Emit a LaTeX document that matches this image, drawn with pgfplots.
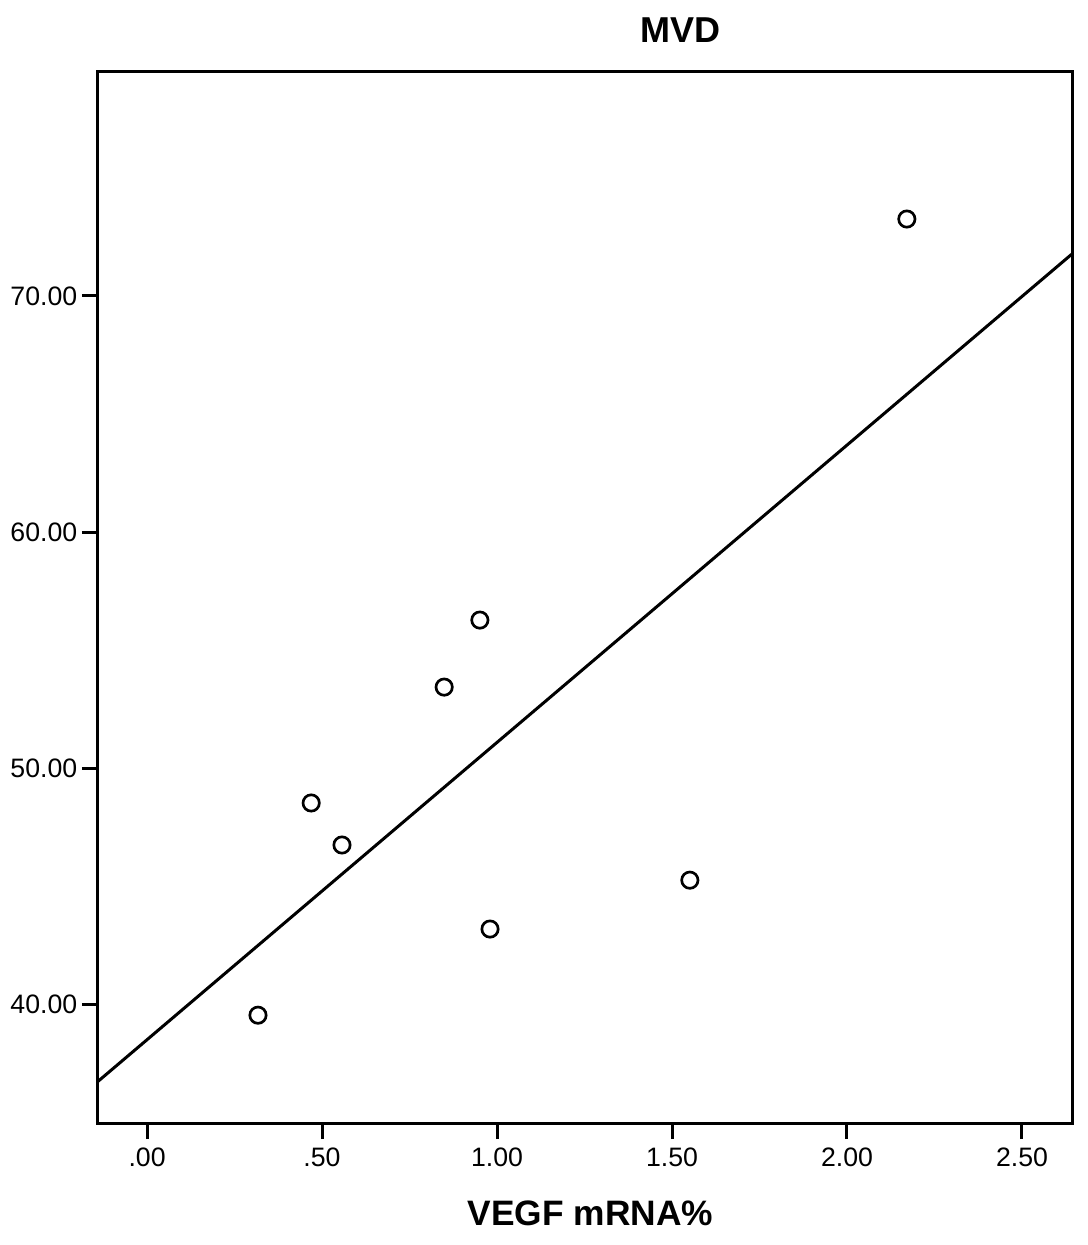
\documentclass[border=0pt]{standalone}
\usepackage{pgfplots}
\pgfplotsset{compat=1.18}
\usepackage{fontspec}
\setmainfont{Liberation Sans}

\begin{document}
\begin{tikzpicture}
% page size: 1087 x 1245 px at 0.3pt per px, axis box corner at origin
\path[use as bounding box] (-29.1pt,-36.3pt) rectangle (297.0pt,337.2pt);
\begin{axis}[
    scale only axis,
    width=292.5pt, height=315.6pt,
    xmin=-0.143, xmax=2.643,
    ymin=34.92, ymax=79.49,
    axis line style={line width=0.9pt},
    tick style={line width=0.9pt, black},
    tick align=outside,
    major tick length=4.5pt,
    xtick={0,0.5,1,1.5,2,2.5},
    xticklabels={.00,.50,1.00,1.50,2.00,2.50},
    ytick={40,50,60,70},
    yticklabels={40.00,50.00,60.00,70.00},
    xtick pos=bottom, ytick pos=left,
    ticklabel style={font=\fontsize{8.0}{9}\selectfont},
    xticklabel style={yshift=0.8pt},
    yticklabel style={xshift=2.1pt},
    clip=false,
]
% fitted line
\addplot[black, line width=0.9pt] coordinates {(-0.143,36.69) (2.643,71.78)};
% observations
\addplot[only marks, mark=o, mark size=2.45pt, mark options={line width=0.8pt, black}]
    coordinates {
    (2.171,73.26)
    (0.951,56.27)
    (0.849,53.43)
    (0.469,48.52)
    (0.557,46.74)
    (1.551,45.25)
    (0.980,43.18)
    (0.317,39.53)
    };
\node[font=\bfseries\fontsize{10.8}{12}\selectfont, anchor=center]
    at (rel axis cs:0.598,1) [yshift=12.6pt] {MVD};
\node[font=\bfseries\fontsize{10.6}{12}\selectfont, anchor=center]
    at (rel axis cs:0.506,0) [yshift=-26.7pt] {VEGF mRNA\%};
\end{axis}
\end{tikzpicture}
\end{document}
